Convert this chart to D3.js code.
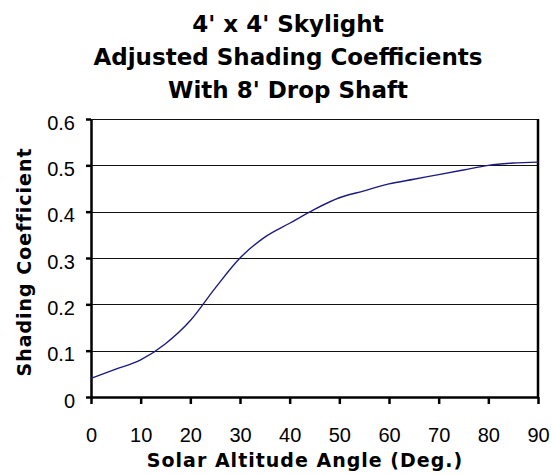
<!DOCTYPE html>
<html>
<head>
<meta charset="utf-8">
<script src="https://cdn.jsdelivr.net/npm/d3@7"></script>
<style>
  body { margin: 0; background: #fff; }
  text { fill: #000; }
  .title { font-family: "DejaVu Sans", sans-serif; font-weight: bold; font-size: 23px; }
  .axis-title { font-family: "DejaVu Sans", sans-serif; font-weight: bold; font-size: 19px; letter-spacing: 1px; }
</style>
</head>
<body>
<div id="chart"></div>
<script>
// data
var angles = [0, 5, 10, 15, 20, 25, 30, 35, 40, 45, 50, 55, 60, 65, 70, 75, 80, 85, 90];
var coefficients = [0.04, 0.06, 0.08, 0.115, 0.165, 0.235, 0.30, 0.345, 0.375, 0.405, 0.43, 0.445, 0.46, 0.47, 0.48, 0.49, 0.50, 0.505, 0.507];
var xTicks = [0, 10, 20, 30, 40, 50, 60, 70, 80, 90];
var yTicks = [0, 0.1, 0.2, 0.3, 0.4, 0.5, 0.6];
var titleLines = ["4' x 4' Skylight", "Adjusted Shading Coefficients", "With 8' Drop Shaft"];

var svgWidth = 553, svgHeight = 475;
var margin = {top: 119, left: 91, right: 15, bottom: 78};
var width = svgWidth - margin.left - margin.right;
var height = svgHeight - margin.top - margin.bottom;

var svg = d3.select("#chart")
    .append("svg")
    .attr("width", svgWidth)
    .attr("height", svgHeight);

// title
svg.append("g")
    .selectAll("text")
    .data(titleLines)
    .join("text")
    .attr("class", "title")
    .attr("x", 288)
    .attr("y", (d, i) => 32 + i * 33)
    .attr("text-anchor", "middle")
    .text(d => d);

var g = svg.append("g")
    .attr("transform", "translate(" + margin.left + "," + margin.top + ")");

var x = d3.scaleLinear().domain([0, 90]).range([0, width]);
var y = d3.scaleLinear().domain([0, 0.6]).range([height, 0]);

// grid lines
g.append("g")
    .selectAll("line")
    .data(yTicks.filter(d => d > 0))
    .join("line")
    .attr("x1", 0)
    .attr("x2", width)
    .attr("y1", d => Math.round(y(d)) + 0.5)
    .attr("y2", d => Math.round(y(d)) + 0.5)
    .attr("stroke", "#111")
    .attr("stroke-width", 1);

// right border
g.append("line")
    .attr("x1", width).attr("x2", width)
    .attr("y1", 0).attr("y2", height)
    .attr("stroke", "#000")
    .attr("stroke-width", 2.5);

var xAxis = d3.axisBottom(x)
    .tickValues(xTicks)
    .tickSize(7)
    .tickPadding(24)
    .tickSizeOuter(0);

var yAxis = d3.axisLeft(y)
    .tickValues(yTicks)
    .tickSize(5)
    .tickPadding(11)
    .tickSizeOuter(0)
    .tickFormat(d => d === 0 ? "0" : d3.format(".1f")(d));

var gx = g.append("g")
    .attr("class", "x axis")
    .attr("transform", "translate(0," + height + ")")
    .call(xAxis);

var gy = g.append("g")
    .attr("class", "y axis")
    .call(yAxis);

[gx, gy].forEach(function (a) {
    a.select(".domain").attr("stroke", "#000").attr("stroke-width", 2.5);
    a.selectAll(".tick line").attr("stroke", "#000").attr("stroke-width", 2.5);
    a.selectAll(".tick text")
        .attr("fill", "#222")
        .style("font-family", "\"Liberation Sans\", Arial, sans-serif")
        .style("font-size", "20px");
});
gy.selectAll(".tick text").attr("dy", "0.5em");

// curve
var line = d3.line()
    .x((d, i) => x(angles[i]))
    .y(d => y(d))
    .curve(d3.curveMonotoneX);

g.append("path")
    .datum(coefficients)
    .attr("fill", "none")
    .attr("stroke", "#1c1c80")
    .attr("stroke-width", 1.4)
    .attr("d", line);

// axis titles
svg.append("text")
    .attr("class", "axis-title")
    .attr("x", 305)
    .attr("y", 467)
    .attr("text-anchor", "middle")
    .text("Solar Altitude Angle (Deg.)");

svg.append("text")
    .attr("class", "axis-title")
    .attr("transform", "translate(31,262) rotate(-90)")
    .attr("text-anchor", "middle")
    .text("Shading Coefficient");
</script>
</body>
</html>
